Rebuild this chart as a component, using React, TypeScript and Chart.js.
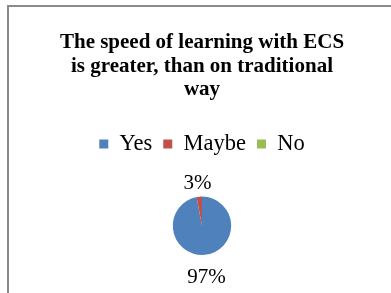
import { useEffect, useRef } from "react";
import { Chart, registerables } from "chart.js";

Chart.register(...registerables);

const titleLines = ["The speed of learning with ECS", "is greater, than on traditional", "way"];
const categories = ["Yes", "Maybe", "No"];
const values = [97, 3, 0];
const colors = ["#4F81BD", "#C0504D", "#9BBB59"];

const FONT = "'Liberation Serif', 'Times New Roman', serif";

const pctLabels = {
  id: "pctLabels",
  afterDatasetsDraw(chart: any) {
    const ctx = chart.ctx;
    const meta = chart.getDatasetMeta(0);
    const data = chart.data.datasets[0].data as number[];
    const total = data.reduce((a: number, b: number) => a + b, 0);
    ctx.save();
    ctx.font = `21px ${FONT}`;
    ctx.fillStyle = "#000";
    ctx.textAlign = "center";
    ctx.textBaseline = "alphabetic";
    meta.data.forEach((arc: any, i: number) => {
      const v = data[i];
      if (!v) return;
      const { x, y, startAngle, endAngle, outerRadius } = arc.getProps(
        ["x", "y", "startAngle", "endAngle", "outerRadius"],
        true
      );
      const mid = (startAngle + endAngle) / 2;
      const text = Math.round((v / total) * 100) + "%";
      const w = ctx.measureText(text).width;
      const h = 24;
      const c = Math.cos(mid);
      const s = Math.sin(mid);
      const d = outerRadius + 4.5 + (w / 2) * Math.abs(c) + (h / 2) * Math.abs(s);
      const cx = x + c * d;
      const cy = y + s * d + 3.5;
      ctx.fillText(text, cx, cy + 21 * 0.32);
    });
    ctx.restore();
  },
};

export default function App() {
  const ref = useRef<HTMLCanvasElement>(null);
  useEffect(() => {
    if (!ref.current) return;
    const chart = new Chart(ref.current, {
      type: "pie",
      data: {
        labels: categories,
        datasets: [
          {
            data: values,
            backgroundColor: colors,
            borderWidth: 0,
            radius: 29.2,
          } as any,
        ],
      },
      options: {
        responsive: false,
        animation: false,
        devicePixelRatio: 1,
        layout: { padding: { left: 13, right: 0, top: 0, bottom: 6.65 } },
        plugins: {
          title: {
            display: true,
            text: titleLines,
            color: "#000",
            font: { family: FONT, size: 21, weight: "bold", lineHeight: 1.11 },
            padding: { top: 31.3, bottom: 20.5 },
          },
          legend: {
            display: true,
            position: "top",
            labels: {
              boxWidth: 9,
              boxHeight: 9,
              padding: 11,
              color: "#000",
              font: { family: FONT, size: 22.5 },
            },
          },
          tooltip: { enabled: false },
        },
      } as any,
      plugins: [pctLabels],
    });
    return () => chart.destroy();
  }, []);
  return (
    <div style={{ position: "fixed", left: 0, top: 0, width: 391, height: 293, background: "#fff" }}>
      <div
        style={{
          position: "absolute",
          left: 7,
          top: 5,
          right: -10,
          bottom: -10,
          borderLeft: "2px solid #8a8a8a",
          borderTop: "2px solid #8a8a8a",
        }}
      />
      <canvas ref={ref} width={391} height={293} style={{ position: "absolute", left: 0, top: 0 }} />
    </div>
  );
}
